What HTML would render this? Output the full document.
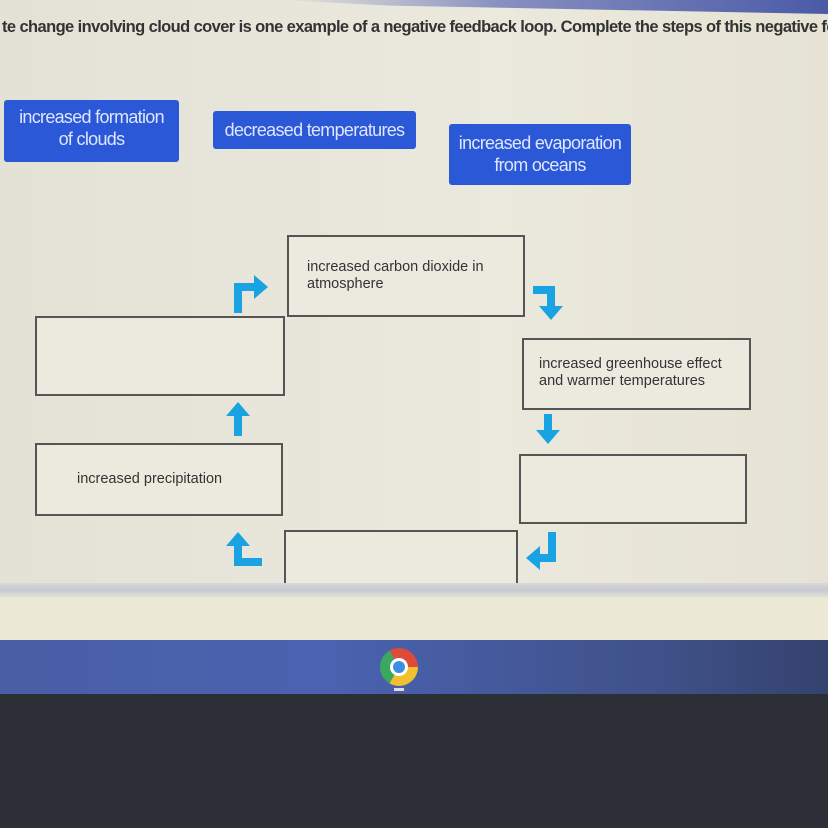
<!DOCTYPE html>
<html><head><style>
body{margin:0;width:828px;height:828px;overflow:hidden;position:relative;background:#e6e4d8;font-family:"Liberation Sans",sans-serif}
.a{position:absolute}
.t{background:#2b58d6;color:#dfe6ff;font-size:18px;text-align:center;line-height:22px;border-radius:3px;letter-spacing:-0.7px}
.b{border:2px solid #555;background:#ece9de;font-size:14.5px;color:#333;box-sizing:border-box;line-height:17px}
</style></head><body>
<div class="a" style="left:0;top:0;width:828px;height:600px;background:linear-gradient(90deg,#e4e2d6,#ebe9dd 60%,#e6e3d4)"></div>
<div class="a" style="left:280px;top:0;width:548px;height:14px;background:linear-gradient(90deg,rgba(150,155,200,0),#8890c0 40%,#4a5aa8);clip-path:polygon(0 0,100% 0,100% 100%,20% 40%)"></div>
<div class="a" style="left:2px;top:18px;font-size:16.5px;color:#333;white-space:nowrap;font-weight:bold;letter-spacing:-0.6px">te change involving cloud cover is one example of a negative feedback loop. Complete the steps of this negative fe</div>
<div class="a t" style="left:4px;top:100px;width:175px;height:62px;padding-top:6px;box-sizing:border-box">increased formation<br>of clouds</div>
<div class="a t" style="left:213px;top:111px;width:203px;height:38px;padding-top:8px;box-sizing:border-box">decreased temperatures</div>
<div class="a t" style="left:449px;top:124px;width:182px;height:61px;padding-top:8px;box-sizing:border-box">increased evaporation<br>from oceans</div>
<div class="a b" style="left:287px;top:235px;width:238px;height:82px;padding:22px 0 0 18px">increased carbon dioxide in<br>atmosphere</div>
<div class="a b" style="left:35px;top:316px;width:250px;height:80px"></div>
<div class="a b" style="left:522px;top:338px;width:229px;height:72px;padding:16px 0 0 15px">increased greenhouse effect<br>and warmer temperatures</div>
<div class="a b" style="left:35px;top:443px;width:248px;height:73px;padding:26px 0 0 40px">increased precipitation</div>
<div class="a b" style="left:519px;top:454px;width:228px;height:70px"></div>
<div class="a b" style="left:284px;top:530px;width:234px;height:70px;border-bottom:none"></div>
<svg class="a" style="left:0;top:0" width="828" height="600">
<g fill="#19a3e3" stroke="none">
<path d="M234 313V283h20v-8l14 12-14 12v-8h-12v22z"/>
<path d="M533 286h22v20h8l-12 14-12-14h8v-12h-14z"/>
<path d="M234 436v-20h-8l12-14 12 14h-8v20z"/>
<path d="M552 414v16h8l-12 14-12-14h8v-16z"/>
<path d="M234 566v-20h-8l12-14 12 14h-8v12h20v8z"/>
<path d="M548 532h8v30h-16v8l-14-12 14-12v8h8z"/>
</g></svg>
<div class="a" style="left:0;top:583px;width:828px;height:14px;background:linear-gradient(#d8d8dc,#c8c9d0,#e0dfd6)"></div>
<div class="a" style="left:0;top:597px;width:828px;height:43px;background:#ebe8d6"></div>
<div class="a" style="left:0;top:640px;width:828px;height:54px;background:linear-gradient(90deg,#4960a6,#4a62b0 40%,#3f5188 80%,#34426e)"></div>
<div class="a" style="left:0;top:694px;width:828px;height:134px;background:#2d2f36"></div>
<div class="a" style="left:380px;top:648px;width:38px;height:38px;border-radius:50%;background:conic-gradient(from -30deg,#e04a3a 0 120deg,#f0c030 120deg 240deg,#3aa860 240deg 360deg)"></div>
<div class="a" style="left:390px;top:658px;width:18px;height:18px;border-radius:50%;background:#3b8ee0;border:3px solid #fff;box-sizing:border-box"></div>
<div class="a" style="left:394px;top:688px;width:10px;height:3px;background:#ddd"></div>
</body></html>
